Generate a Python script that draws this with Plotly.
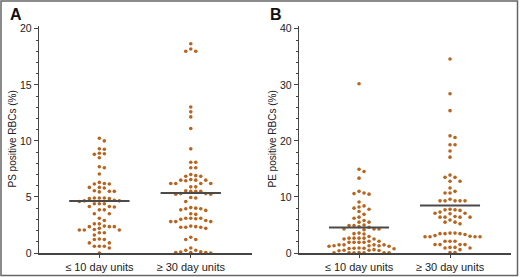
import plotly.graph_objects as go

# ---------------- data ----------------
categories = ["≤ 10 day units", "≥ 30 day units"]

ps_10day = [10.24, 10.0, 9.3, 9.25, 8.9, 8.85, 8.8, 8.5, 7.7, 7.6, 7.05, 6.3, 6.2, 6.15,
            6.15, 5.85, 5.85, 5.8, 5.55, 5.5, 5.5, 5.45, 4.9, 4.9, 4.85, 4.85, 4.9, 4.7,
            4.65, 4.65, 4.6, 4.4, 4.4, 4.4, 4.15, 4.1, 4.15, 3.85, 3.85, 3.5, 3.5, 3.1,
            2.9, 2.6, 2.6, 2.4, 2.35, 2.35, 2.35, 2.2, 2.1, 2.05, 2.05, 2.05, 1.8, 1.8,
            1.6, 1.25, 1.2, 1.2, 0.9, 0.9, 0.6, 0.6, 0.6, 0.45, 0.0]
ps_30day = [18.66, 18.2, 18.0, 18.0, 13.03, 12.59, 12.14, 11.1, 9.29, 8.1, 8.1, 7.6, 7.6,
            7.0, 6.85, 6.85, 6.9, 6.55, 6.5, 6.5, 6.5, 6.45, 6.2, 6.2, 6.2, 6.2, 5.9, 5.9,
            5.5, 5.55, 5.5, 5.5, 5.3, 5.25, 5.3, 5.25, 4.9, 4.95, 4.6, 3.95, 3.95, 4.0,
            4.05, 3.8, 3.85, 3.5, 3.45, 3.1, 3.1, 3.05, 3.1, 3.0, 2.8, 2.8, 2.8, 2.9, 2.4,
            2.35, 2.3, 2.3, 2.3, 2.2, 1.2, 1.2, 1.4, 0.45, 0.25, 0.25, 0.05, 0.05, 0.0,
            0.05, 0.08, 0.1]
pe_10day = [30.2, 14.95, 14.55, 13.35, 11.0, 10.7, 10.6, 10.5, 9.1, 8.4, 8.2, 8.0, 7.8,
            7.4, 6.9, 6.4, 6.2, 5.8, 5.5, 5.5, 5.0, 4.9, 4.9, 4.7, 4.6, 4.3, 4.3, 4.3,
            4.15, 3.55, 3.45, 3.4, 2.95, 2.65, 2.65, 2.65, 2.65, 2.5, 2.5, 2.1, 2.1, 1.9,
            1.9, 1.9, 1.9, 1.45, 1.45, 1.45, 1.3, 1.3, 1.2, 1.3, 1.2, 1.45, 0.9, 0.8,
            0.85, 0.75, 0.85, 0.6, 0.4, 0.5, 0.45, 0.5, 0.05, 0.05, 0.1, 0.05, 0.05,
            0.05, 0.05]
pe_30day = [34.6, 28.4, 25.4, 20.9, 20.6, 19.3, 19.3, 18.2, 17.1, 13.9, 13.5, 13.5, 12.8,
            12.8, 11.6, 11.0, 10.7, 10.7, 9.6, 9.3, 9.3, 9.3, 9.3, 9.3, 7.7, 7.6, 7.7,
            7.8, 7.1, 7.1, 7.0, 7.3, 6.4, 6.4, 6.4, 6.4, 6.5, 5.9, 5.5, 5.2, 5.5, 3.45,
            3.45, 3.55, 3.55, 3.45, 3.3, 2.9, 2.9, 2.9, 3.1, 3.0, 2.9, 2.1, 2.1, 2.1,
            1.5, 1.5, 1.5, 1.5, 0.6, 1.0, 1.0, 0.9, 0.9, 0.1, 0.1]

ps_means = [4.63, 5.35]
pe_means = [4.57, 8.49]

ps_ticks = [0, 5, 10, 15, 20]
pe_ticks = [0, 10, 20, 30, 40]

# ---------------- layout geometry ----------------
W, H = 520, 277
ML, MR, MT, MB = 39, 9, 26, 24
PW, PH = W - ML - MR, H - MT - MB
DOM_A = [0.0, 0.4513]
DOM_B = [0.5508, 1.0]
XR = [0.34, 2.67]
YR_A = [0, 20.25]
YR_B = [0, 40.5]

DOT = "#B8641F"
LINE = "#4a4a4a"
AX = "#444444"


def swarm(values, center, yscale, xscale, step=5.0, diam=4.2):
    """Simple beeswarm: offsets in pixels, converted to data units."""
    placed = []
    xs = [0.0] * len(values)
    order = sorted(range(len(values)), key=lambda i: -values[i])
    for i in order:
        ypx = values[i] * yscale
        k = 0
        while True:
            n = (k + 1) // 2
            off = n * step * (1 if k % 2 == 1 else -1) if k else 0.0
            ok = True
            for (px, py) in placed:
                if (px - off) ** 2 + (py - ypx) ** 2 < diam ** 2:
                    ok = False
                    break
            if ok:
                placed.append((off, ypx))
                xs[i] = center + off / xscale
                break
            k += 1
    return xs


fig = go.Figure()

panels = [
    ("x", "y", DOM_A, YR_A, [ps_10day, ps_30day], ps_means),
    ("x2", "y2", DOM_B, YR_B, [pe_10day, pe_30day], pe_means),
]
for xa, ya, dom, yr, groups, means in panels:
    xscale = PW * (dom[1] - dom[0]) / (XR[1] - XR[0])
    yscale = PH / (yr[1] - yr[0])
    for gi, vals in enumerate(groups):
        c = gi + 1
        xs = swarm(vals, c, yscale, xscale)
        fig.add_trace(go.Scatter(
            x=xs, y=vals, mode="markers", xaxis=xa, yaxis=ya,
            marker=dict(size=3.6, color=DOT, line=dict(width=0)),
            cliponaxis=False, showlegend=False, hoverinfo="y"))
    for gi, m in enumerate(means):
        c = gi + 1
        fig.add_trace(go.Scatter(
            x=[c - 0.33, c + 0.33], y=[m, m], mode="lines", xaxis=xa, yaxis=ya,
            line=dict(color=LINE, width=2), showlegend=False, hoverinfo="skip"))

xcommon = dict(range=XR, tickmode="array", tickvals=[1, 2], ticktext=categories,
               showline=True, linecolor=AX, linewidth=1.6, ticks="outside",
               ticklen=3, tickcolor=AX, showgrid=False, zeroline=False,
               tickfont=dict(family="Liberation Sans, Arial", size=11, color="#222"))
ycommon = dict(showline=True, linecolor=AX, linewidth=1.4, ticks="outside",
               ticklen=4, tickcolor=AX, showgrid=False, zeroline=False,
               tickfont=dict(family="Liberation Sans, Arial", size=10.5, color="#222"))

fig.update_layout(
    width=W, height=H,
    margin=dict(l=ML, r=MR, t=MT, b=MB, autoexpand=False),
    paper_bgcolor="white", plot_bgcolor="white",
    xaxis=dict(domain=DOM_A, anchor="y", **xcommon),
    xaxis2=dict(domain=DOM_B, anchor="y2", **xcommon),
    yaxis=dict(domain=[0, 1], anchor="x", range=YR_A, tickvals=ps_ticks,
               minor=dict(dtick=1, ticks="outside", ticklen=2, tickcolor=AX),
               **ycommon),
    yaxis2=dict(domain=[0, 1], anchor="x2", range=YR_B, tickvals=pe_ticks,
                minor=dict(dtick=2, ticks="outside", ticklen=2, tickcolor=AX),
                **ycommon),
)


def px_x(p):
    return (p - ML) / PW


def px_y(p):
    return (H - MB - p) / PH


ann_font = dict(family="Liberation Sans Narrow, Liberation Sans, Arial", size=10, color="#222")
fig.add_annotation(text="PS positive RBCs (%)", xref="paper", yref="paper",
                   x=px_x(12), y=0.5, textangle=-90, showarrow=False,
                   xanchor="center", yanchor="middle", font=ann_font)
fig.add_annotation(text="PE positive RBCs (%)", xref="paper", yref="paper",
                   x=px_x(272), y=0.5, textangle=-90, showarrow=False,
                   xanchor="center", yanchor="middle", font=ann_font)
lab_font = dict(family="Liberation Sans, Arial", size=16, color="#111")
fig.add_annotation(text="<b>A</b>", xref="paper", yref="paper", x=px_x(8), y=px_y(14),
                   showarrow=False, xanchor="left", yanchor="middle", font=lab_font)
fig.add_annotation(text="<b>B</b>", xref="paper", yref="paper", x=px_x(268), y=px_y(14),
                   showarrow=False, xanchor="left", yanchor="middle", font=lab_font)

fig.add_shape(type="rect", xref="paper", yref="paper",
              x0=px_x(1), x1=px_x(517.5), y0=px_y(275.5), y1=px_y(1),
              line=dict(color="#666666", width=1.5), fillcolor="rgba(0,0,0,0)",
              layer="below")

fig.write_html("out.html", config={"displayModeBar": False},
               post_script="document.body.style.margin='0';document.body.style.padding='0';")
